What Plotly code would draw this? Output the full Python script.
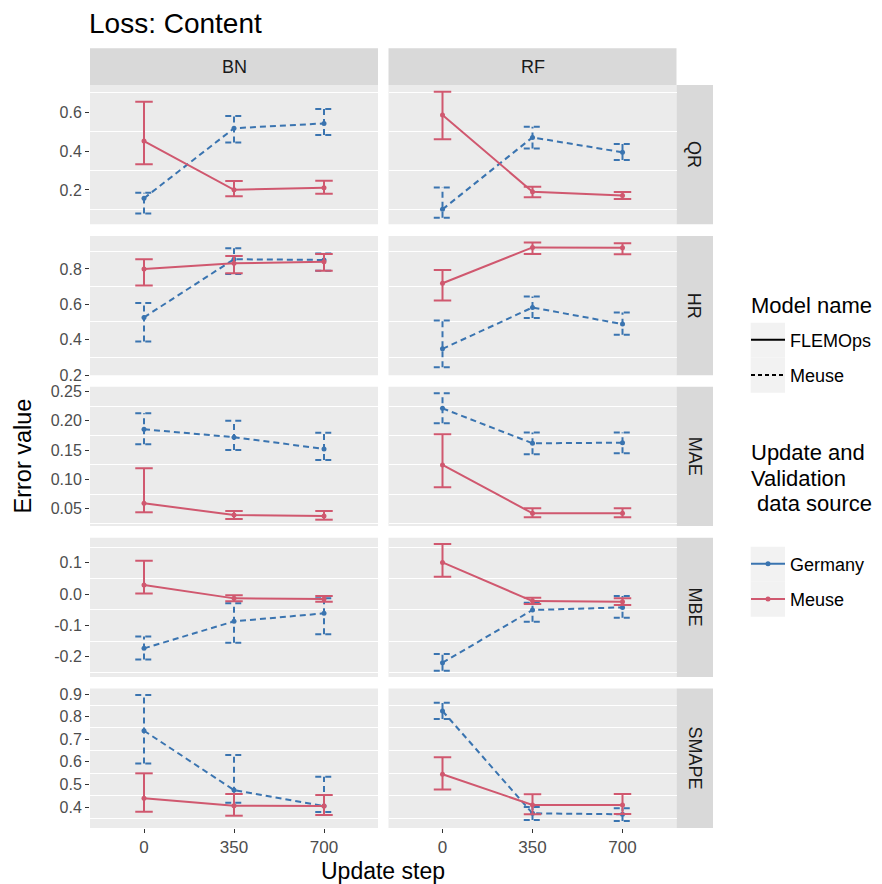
import plotly.graph_objects as go

# ---------------- data ----------------
steps = [0, 350, 700]
metrics = ["QR", "HR", "MAE", "MBE", "SMAPE"]
regions = ["BN", "RF"]

# QR
qr_bn_flemops = [0.452, 0.201, 0.211]
qr_bn_flemops_lo = [0.332, 0.167, 0.180]
qr_bn_flemops_hi = [0.655, 0.246, 0.247]
qr_bn_meuse = [0.157, 0.518, 0.543]
qr_bn_meuse_lo = [0.079, 0.445, 0.483]
qr_bn_meuse_hi = [0.186, 0.581, 0.617]
qr_rf_flemops = [0.586, 0.191, 0.172]
qr_rf_flemops_lo = [0.461, 0.162, 0.153]
qr_rf_flemops_hi = [0.706, 0.217, 0.189]
qr_rf_meuse = [0.100, 0.471, 0.394]
qr_rf_meuse_lo = [0.057, 0.414, 0.354]
qr_rf_meuse_hi = [0.213, 0.526, 0.437]

# HR
hr_bn_flemops = [0.800, 0.832, 0.841]
hr_bn_flemops_lo = [0.706, 0.776, 0.790]
hr_bn_flemops_hi = [0.855, 0.873, 0.885]
hr_bn_meuse = [0.526, 0.855, 0.851]
hr_bn_meuse_lo = [0.390, 0.772, 0.790]
hr_bn_meuse_hi = [0.607, 0.917, 0.888]
hr_rf_flemops = [0.719, 0.922, 0.920]
hr_rf_flemops_lo = [0.621, 0.885, 0.883]
hr_rf_flemops_hi = [0.794, 0.950, 0.945]
hr_rf_meuse = [0.348, 0.582, 0.488]
hr_rf_meuse_lo = [0.244, 0.522, 0.428]
hr_rf_meuse_hi = [0.509, 0.644, 0.554]

# MAE
mae_bn_flemops = [0.0595, 0.0396, 0.0379]
mae_bn_flemops_lo = [0.0442, 0.0328, 0.0316]
mae_bn_flemops_hi = [0.119, 0.0464, 0.0464]
mae_bn_meuse = [0.1854, 0.172, 0.152]
mae_bn_meuse_lo = [0.160, 0.150, 0.133]
mae_bn_meuse_hi = [0.2126, 0.200, 0.1796]
mae_rf_flemops = [0.1247, 0.0425, 0.0425]
mae_rf_flemops_lo = [0.0867, 0.0357, 0.0357]
mae_rf_flemops_hi = [0.1769, 0.051, 0.051]
mae_rf_meuse = [0.221, 0.1616, 0.1626]
mae_rf_meuse_lo = [0.1956, 0.143, 0.1445]
mae_rf_meuse_hi = [0.2466, 0.180, 0.180]

# MBE
mbe_bn_flemops = [0.0288, -0.0138, -0.016]
mbe_bn_flemops_lo = [0.002, -0.023, -0.0245]
mbe_bn_flemops_hi = [0.106, -0.004, -0.0064]
mbe_bn_meuse = [-0.1735, -0.0873, -0.0617]
mbe_bn_meuse_lo = [-0.209, -0.1555, -0.1288]
mbe_bn_meuse_hi = [-0.136, -0.0298, -0.0138]
mbe_rf_flemops = [0.101, -0.0224, -0.0245]
mbe_rf_flemops_lo = [0.055, -0.032, -0.035]
mbe_rf_flemops_hi = [0.160, -0.0117, -0.0138]
mbe_rf_meuse = [-0.2194, -0.051, -0.0426]
mbe_rf_meuse_lo = [-0.245, -0.0885, -0.0757]
mbe_rf_meuse_hi = [-0.1917, -0.028, -0.0064]

# SMAPE
smape_bn_flemops = [0.4385, 0.406, 0.404]
smape_bn_flemops_lo = [0.379, 0.3615, 0.3646]
smape_bn_flemops_hi = [0.549, 0.4575, 0.453]
smape_bn_meuse = [0.7376, 0.475, 0.404]
smape_bn_meuse_lo = [0.593, 0.419, 0.378]
smape_bn_meuse_hi = [0.8956, 0.630, 0.534]
smape_rf_flemops = [0.5447, 0.409, 0.409]
smape_rf_flemops_lo = [0.478, 0.368, 0.369]
smape_rf_flemops_hi = [0.620, 0.456, 0.4575]
smape_rf_meuse = [0.825, 0.372, 0.3677]
smape_rf_meuse_lo = [0.789, 0.3425, 0.338]
smape_rf_meuse_hi = [0.8615, 0.400, 0.394]

# y tick labels per facet row
qr_ticks = [0.2, 0.4, 0.6]
hr_ticks = [0.2, 0.4, 0.6, 0.8]
mae_ticks = [0.05, 0.10, 0.15, 0.20, 0.25]
mbe_ticks = [-0.2, -0.1, 0.0, 0.1]
smape_ticks = [0.4, 0.5, 0.6, 0.7, 0.8, 0.9]
row_ticks = [qr_ticks, hr_ticks, mae_ticks, mbe_ticks, smape_ticks]
row_decimals = [1, 1, 2, 1, 1]
y_ranges = [[0.023, 0.741], [0.199, 0.987], [0.0207, 0.2577], [-0.265, 0.180], [0.3075, 0.924]]

panel_data = {
    ("QR", "BN"): (qr_bn_flemops, qr_bn_flemops_lo, qr_bn_flemops_hi, qr_bn_meuse, qr_bn_meuse_lo, qr_bn_meuse_hi),
    ("QR", "RF"): (qr_rf_flemops, qr_rf_flemops_lo, qr_rf_flemops_hi, qr_rf_meuse, qr_rf_meuse_lo, qr_rf_meuse_hi),
    ("HR", "BN"): (hr_bn_flemops, hr_bn_flemops_lo, hr_bn_flemops_hi, hr_bn_meuse, hr_bn_meuse_lo, hr_bn_meuse_hi),
    ("HR", "RF"): (hr_rf_flemops, hr_rf_flemops_lo, hr_rf_flemops_hi, hr_rf_meuse, hr_rf_meuse_lo, hr_rf_meuse_hi),
    ("MAE", "BN"): (mae_bn_flemops, mae_bn_flemops_lo, mae_bn_flemops_hi, mae_bn_meuse, mae_bn_meuse_lo, mae_bn_meuse_hi),
    ("MAE", "RF"): (mae_rf_flemops, mae_rf_flemops_lo, mae_rf_flemops_hi, mae_rf_meuse, mae_rf_meuse_lo, mae_rf_meuse_hi),
    ("MBE", "BN"): (mbe_bn_flemops, mbe_bn_flemops_lo, mbe_bn_flemops_hi, mbe_bn_meuse, mbe_bn_meuse_lo, mbe_bn_meuse_hi),
    ("MBE", "RF"): (mbe_rf_flemops, mbe_rf_flemops_lo, mbe_rf_flemops_hi, mbe_rf_meuse, mbe_rf_meuse_lo, mbe_rf_meuse_hi),
    ("SMAPE", "BN"): (smape_bn_flemops, smape_bn_flemops_lo, smape_bn_flemops_hi, smape_bn_meuse, smape_bn_meuse_lo, smape_bn_meuse_hi),
    ("SMAPE", "RF"): (smape_rf_flemops, smape_rf_flemops_lo, smape_rf_flemops_hi, smape_rf_meuse, smape_rf_meuse_lo, smape_rf_meuse_hi),
}

# ---------------- style ----------------
OFF = 8                       # page body margin in the browser
W, H = 882 - OFF, 884 - OFF   # figure size so that it fills the window
RED = "#D0586F"
BLUE = "#3A74B0"
FONT = "Liberation Sans, Arial, sans-serif"
PANEL_BG = "#EBEBEB"
STRIP_BG = "#D9D9D9"
CAP = 34          # error-bar cap half width (x data units)
DASH = "6px,4px"
X_RANGE = [-210, 910]
TICK_FONT = dict(family=FONT, size=16, color="#4D4D4D")

col_px = [(90, 378), (388.5, 676.5)]
row_top0, row_h, row_step = 85, 139.3, 150.9
strip_top = (48.3, 85)
strip_right = (676.5, 713)


def px_x(v):
    return (v - OFF) / W


def px_y(v):
    return 1 - (v - OFF) / H


def fmt(v, d):
    return f"{v:.{d}f}"


def errbar_xy(xs, lo, hi):
    ex, ey = [], []
    for x, l, h in zip(xs, lo, hi):
        ex += [x, x, None, x - CAP, x + CAP, None, x - CAP, x + CAP, None]
        ey += [l, h, None, h, h, None, l, l, None]
    return ex, ey


fig = go.Figure()
layout = {}
annotations = []
shapes = []

for r, metric in enumerate(metrics):
    top = row_top0 + r * row_step
    bot = top + row_h
    ticks = row_ticks[r]
    dt = ticks[1] - ticks[0]
    for c, region in enumerate(regions):
        k = r * 2 + c + 1
        xa = "x" if k == 1 else f"x{k}"
        ya = "y" if k == 1 else f"y{k}"
        fl, fl_lo, fl_hi, me, me_lo, me_hi = panel_data[(metric, region)]

        # Meuse model (dashed), Germany data source (blue)
        ex, ey = errbar_xy(steps, me_lo, me_hi)
        fig.add_trace(go.Scatter(x=ex, y=ey, mode="lines", xaxis=xa, yaxis=ya,
                                 line=dict(color=BLUE, width=2, dash=DASH),
                                 showlegend=False, hoverinfo="skip"))
        fig.add_trace(go.Scatter(x=steps, y=me, mode="lines+markers", xaxis=xa, yaxis=ya,
                                 line=dict(color=BLUE, width=2, dash=DASH),
                                 marker=dict(color=BLUE, size=5),
                                 showlegend=False))
        # FLEMOps model (solid), Meuse data source (red)
        ex, ey = errbar_xy(steps, fl_lo, fl_hi)
        fig.add_trace(go.Scatter(x=ex, y=ey, mode="lines", xaxis=xa, yaxis=ya,
                                 line=dict(color=RED, width=2),
                                 showlegend=False, hoverinfo="skip"))
        fig.add_trace(go.Scatter(x=steps, y=fl, mode="lines+markers", xaxis=xa, yaxis=ya,
                                 line=dict(color=RED, width=2),
                                 marker=dict(color=RED, size=5),
                                 showlegend=False))

        x0, x1 = col_px[c]
        xkey = "xaxis" if k == 1 else f"xaxis{k}"
        ykey = "yaxis" if k == 1 else f"yaxis{k}"
        bottom_row = (r == len(metrics) - 1)
        layout[xkey] = dict(
            domain=[px_x(x0), px_x(x1)], anchor=ya, range=X_RANGE,
            showgrid=False, zeroline=False, showline=False, automargin=False,
            tickmode="array", tickvals=steps, ticktext=[str(s) for s in steps],
            showticklabels=bottom_row, ticks="outside" if bottom_row else "",
            ticklen=4, tickwidth=1.2, tickcolor="#333333",
            tickfont=dict(family=FONT, size=17, color="#4D4D4D"),
        )
        layout[ykey] = dict(
            domain=[px_y(bot), px_y(top)], anchor=xa, range=y_ranges[r],
            showgrid=False, zeroline=False, showline=False, automargin=False,
            tickmode="array", tickvals=ticks,
            ticktext=[fmt(t, row_decimals[r]) for t in ticks],
            showticklabels=(c == 0), ticks="outside" if c == 0 else "",
            ticklen=4, tickwidth=1.2, tickcolor="#333333", tickfont=TICK_FONT,
            minor=dict(showgrid=True, gridcolor="white", gridwidth=1.3,
                       tickmode="linear", tick0=ticks[0] - dt / 2, dtick=dt, ticks=""),
        )
        shapes.append(dict(type="rect", xref="paper", yref="paper", layer="below",
                           x0=px_x(x0), x1=px_x(x1), y0=px_y(bot), y1=px_y(top),
                           fillcolor=PANEL_BG, line=dict(width=0)))

    # right strip
    shapes.append(dict(type="rect", xref="paper", yref="paper", layer="below",
                       x0=px_x(strip_right[0]), x1=px_x(strip_right[1]),
                       y0=px_y(bot), y1=px_y(top), fillcolor=STRIP_BG, line=dict(width=0)))
    annotations.append(dict(x=px_x((strip_right[0] + strip_right[1]) / 2),
                            y=px_y((top + bot) / 2), xref="paper", yref="paper",
                            xanchor="center", yanchor="middle",
                            text=metric, textangle=90, showarrow=False,
                            font=dict(family=FONT, size=18, color="#1A1A1A")))

# top strips
for c, region in enumerate(regions):
    x0, x1 = col_px[c]
    shapes.append(dict(type="rect", xref="paper", yref="paper", layer="below",
                       x0=px_x(x0), x1=px_x(x1), y0=px_y(strip_top[1]), y1=px_y(strip_top[0]),
                       fillcolor=STRIP_BG, line=dict(width=0)))
    annotations.append(dict(x=px_x((x0 + x1) / 2), y=px_y(sum(strip_top) / 2),
                            xref="paper", yref="paper", xanchor="center", yanchor="middle",
                            text=region, showarrow=False,
                            font=dict(family=FONT, size=18, color="#1A1A1A")))

# legend key backgrounds
for (ky0, ky1) in [(322.7, 357.5), (357.5, 392.7), (546.7, 581.7), (581.7, 616.7)]:
    shapes.append(dict(type="rect", xref="paper", yref="paper", layer="below",
                       x0=px_x(750.7), x1=px_x(785), y0=px_y(ky1), y1=px_y(ky0),
                       fillcolor="#F2F2F2", line=dict(width=0)))

# legend titles
LEG_TITLE = dict(family=FONT, size=22, color="black")
annotations.append(dict(x=px_x(749), y=px_y(306), xref="paper", yref="paper",
                        xanchor="left", yanchor="middle", text="Model name", showarrow=False,
                        font=LEG_TITLE))
for i, line in enumerate(["Update and", "Validation", "\u00a0data source"]):
    annotations.append(dict(x=px_x(749), y=px_y(453 + 25 * i), xref="paper", yref="paper",
                            xanchor="left", yanchor="middle", text=line, showarrow=False,
                            font=LEG_TITLE))

# legend entry traces
fig.add_trace(go.Scatter(x=[None], y=[None], mode="lines", name="FLEMOps",
                         line=dict(color="black", width=2), legend="legend", legendgroup="a"))
fig.add_trace(go.Scatter(x=[None], y=[None], mode="lines", name="Meuse",
                         line=dict(color="black", width=2, dash="4px,3px"), legend="legend", legendgroup="b"))
fig.add_trace(go.Scatter(x=[None], y=[None], mode="lines+markers", name="Germany",
                         line=dict(color=BLUE, width=2), marker=dict(color=BLUE, size=5),
                         legend="legend2", legendgroup="c"))
fig.add_trace(go.Scatter(x=[None], y=[None], mode="lines+markers", name="Meuse",
                         line=dict(color=RED, width=2), marker=dict(color=RED, size=5),
                         legend="legend2", legendgroup="d"))

# axis titles
annotations.append(dict(x=px_x(22), y=px_y(456.5), xref="paper", yref="paper",
                        xanchor="center", yanchor="middle",
                        text="Error value", textangle=-90, showarrow=False,
                        font=dict(family=FONT, size=23.5, color="black")))
annotations.append(dict(x=px_x(383), y=px_y(871), xref="paper", yref="paper",
                        xanchor="center", yanchor="middle",
                        text="Update step", showarrow=False,
                        font=dict(family=FONT, size=23, color="black")))

LEG_FONT = dict(family=FONT, size=18, color="black")
fig.update_layout(
    width=W, height=H,
    margin=dict(l=0, r=0, t=0, b=0, autoexpand=False),
    paper_bgcolor="white", plot_bgcolor="rgba(0,0,0,0)",
    title=dict(text="Loss: Content", x=px_x(89), xanchor="left", y=px_y(23), yanchor="middle",
               font=dict(family=FONT, size=28, color="black")),
    shapes=shapes, annotations=annotations,
    legend=dict(x=px_x(746), xanchor="left", y=px_y(321.5), yanchor="top",
                bgcolor="rgba(0,0,0,0)", tracegroupgap=9, itemwidth=34, font=LEG_FONT),
    legend2=dict(x=px_x(746), xanchor="left", y=px_y(545.5), yanchor="top",
                 bgcolor="rgba(0,0,0,0)", tracegroupgap=9, itemwidth=34, font=LEG_FONT),
    showlegend=True,
    **layout,
)

fig.write_html("out.html")
